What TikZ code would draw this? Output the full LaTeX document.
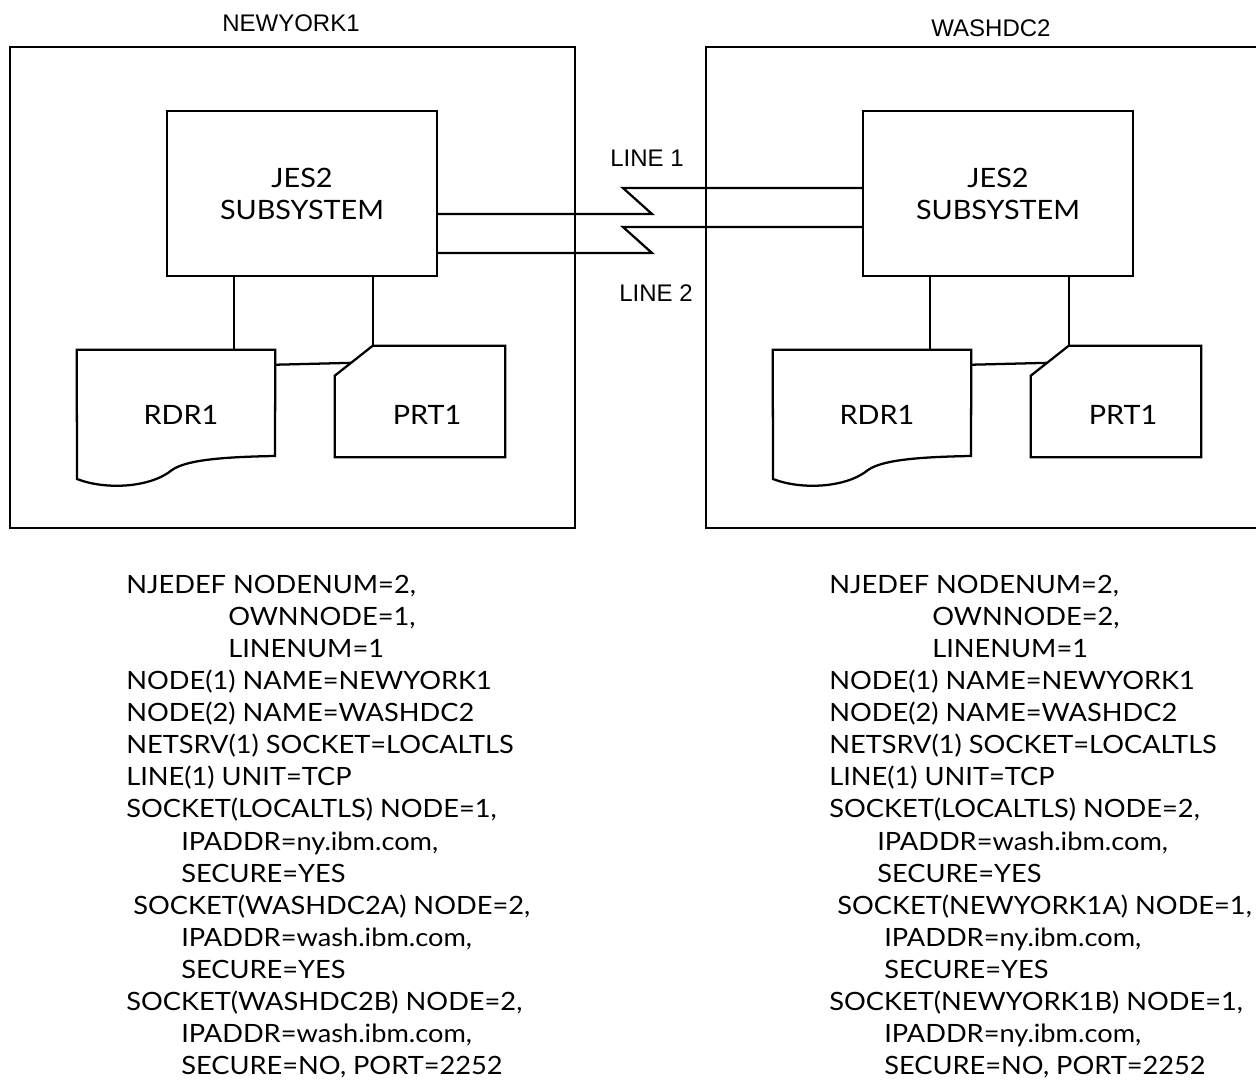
\documentclass[tikz,border=0pt]{standalone}
\usepackage{fontspec}
\setmainfont[FakeStretch=1.08]{Lato}
\newfontfamily\labelfont{Liberation Sans}
\usetikzlibrary{calc}

\begin{document}
\begin{tikzpicture}[x=0.75pt,y=-0.75pt,
  outline/.style={line width=1.7pt,line join=miter},
  link/.style={line width=1.7pt},
  sitebox/.style={draw,line width=1.7pt,inner sep=0pt,minimum width=423.75pt,minimum height=360.75pt},
  jesbox/.style={draw,line width=1.7pt,minimum width=202.5pt,minimum height=123.75pt,align=center,font=\fontsize{20}{24}\selectfont},
  devtext/.style={inner sep=0pt,font=\fontsize{20}{24}\selectfont},
  sitename/.style={anchor=base,inner sep=0pt,font=\labelfont\fontsize{18}{20}\selectfont},
  cfgline/.style={anchor=base west,inner sep=0pt,font=\fontsize{18.9}{23}\selectfont}]
  \useasboundingbox (0,0) rectangle (1256,1080);

  \foreach \s/\dx/\site/\tx/\ty in {L/0/NEWYORK1/291/32,R/696/WASHDC2/991/37} {
    \node[sitebox] (site\s) at (292.5+\dx,287.5) {};
    \node[sitename] (name\s) at (\tx,\ty) {\site};
    \node[jesbox] (jes\s) at (302+\dx,193.5) {JES2\\SUBSYSTEM};
    \node[inner sep=0pt,minimum width=148.5pt,minimum height=97.5pt] (rdr\s) at (176+\dx,415) {};
    \node[devtext] (rdrname\s) at (181+\dx,415) {RDR1};
    \node[inner sep=0pt,minimum width=127.5pt,minimum height=83.25pt] (prt\s) at (420+\dx,401.5) {};
    \node[devtext] (prtname\s) at (427+\dx,415) {PRT1};
    \draw[outline] (rdr\s.north west) -- (rdr\s.north east) -- (275+\dx,456)
      .. controls (215+\dx,457) and (185+\dx,461) .. (172+\dx,470)
      .. controls (150+\dx,488) and (105+\dx,490) .. (77+\dx,479) -- cycle;
    \coordinate (cut\s) at ([xshift=28.5pt]prt\s.north west);
    \coordinate (low\s) at ([yshift=-22.5pt]prt\s.north west);
    \draw[outline] (low\s) -- (cut\s) -- (prt\s.north east) -- (prt\s.south east) -- (prt\s.south west) -- cycle;
    \coordinate (tap\s) at ([xshift=51pt]jes\s.south west);
    \draw[link] (tap\s) -- (tap\s |- rdr\s.north);
    \draw[link] (cut\s |- jes\s.south) -- (cut\s);
    \draw[link] ([yshift=-11.25pt]rdr\s.north east) -- ($(low\s)!0.43!(cut\s)$);
  }

  % the two lines between the JES2 boxes
  \coordinate (bend1a) at (652,214);
  \coordinate (bend1b) at (623,188);
  \coordinate (bend2a) at (652,253);
  \coordinate (bend2b) at (623,227);
  \draw[link] (jesL.east |- bend1a) -- (bend1a) -- (bend1b) -- (bend1b -| jesR.west);
  \draw[link] (jesL.east |- bend2a) -- (bend2a) -- (bend2b) -- (bend2b -| jesR.west);
  \node[sitename] (line1) at (647,167) {LINE 1};
  \node[sitename] (line2) at (656,302) {LINE 2};

  \foreach \dx/\t [count=\i] in {0/{NJEDEF NODENUM=2,},102/{OWNNODE=1,},102/{LINENUM=1},
      0/{NODE(1) NAME=NEWYORK1},0/{NODE(2) NAME=WASHDC2},0/{NETSRV(1) SOCKET=LOCALTLS},
      0/{LINE(1) UNIT=TCP},0/{SOCKET(LOCALTLS) NODE=1,},55/{IPADDR=ny.ibm.com,},55/{SECURE=YES},
      7/{SOCKET(WASHDC2A) NODE=2,},55/{IPADDR=wash.ibm.com,},55/{SECURE=YES},
      0/{SOCKET(WASHDC2B) NODE=2,},55/{IPADDR=wash.ibm.com,},55/{SECURE=NO, PORT=2252}}
    \node[cfgline] (cfgL\i) at (126+\dx,560.87+32.13*\i) {\t};

  \foreach \dx/\t [count=\i] in {0/{NJEDEF NODENUM=2,},103/{OWNNODE=2,},103/{LINENUM=1},
      0/{NODE(1) NAME=NEWYORK1},0/{NODE(2) NAME=WASHDC2},0/{NETSRV(1) SOCKET=LOCALTLS},
      0/{LINE(1) UNIT=TCP},0/{SOCKET(LOCALTLS) NODE=2,},48/{IPADDR=wash.ibm.com,},48/{SECURE=YES},
      8/{SOCKET(NEWYORK1A) NODE=1,},55/{IPADDR=ny.ibm.com,},55/{SECURE=YES},
      0/{SOCKET(NEWYORK1B) NODE=1,},55/{IPADDR=ny.ibm.com,},55/{SECURE=NO, PORT=2252}}
    \node[cfgline] (cfgR\i) at (829+\dx,560.87+32.13*\i) {\t};
\end{tikzpicture}
\end{document}
